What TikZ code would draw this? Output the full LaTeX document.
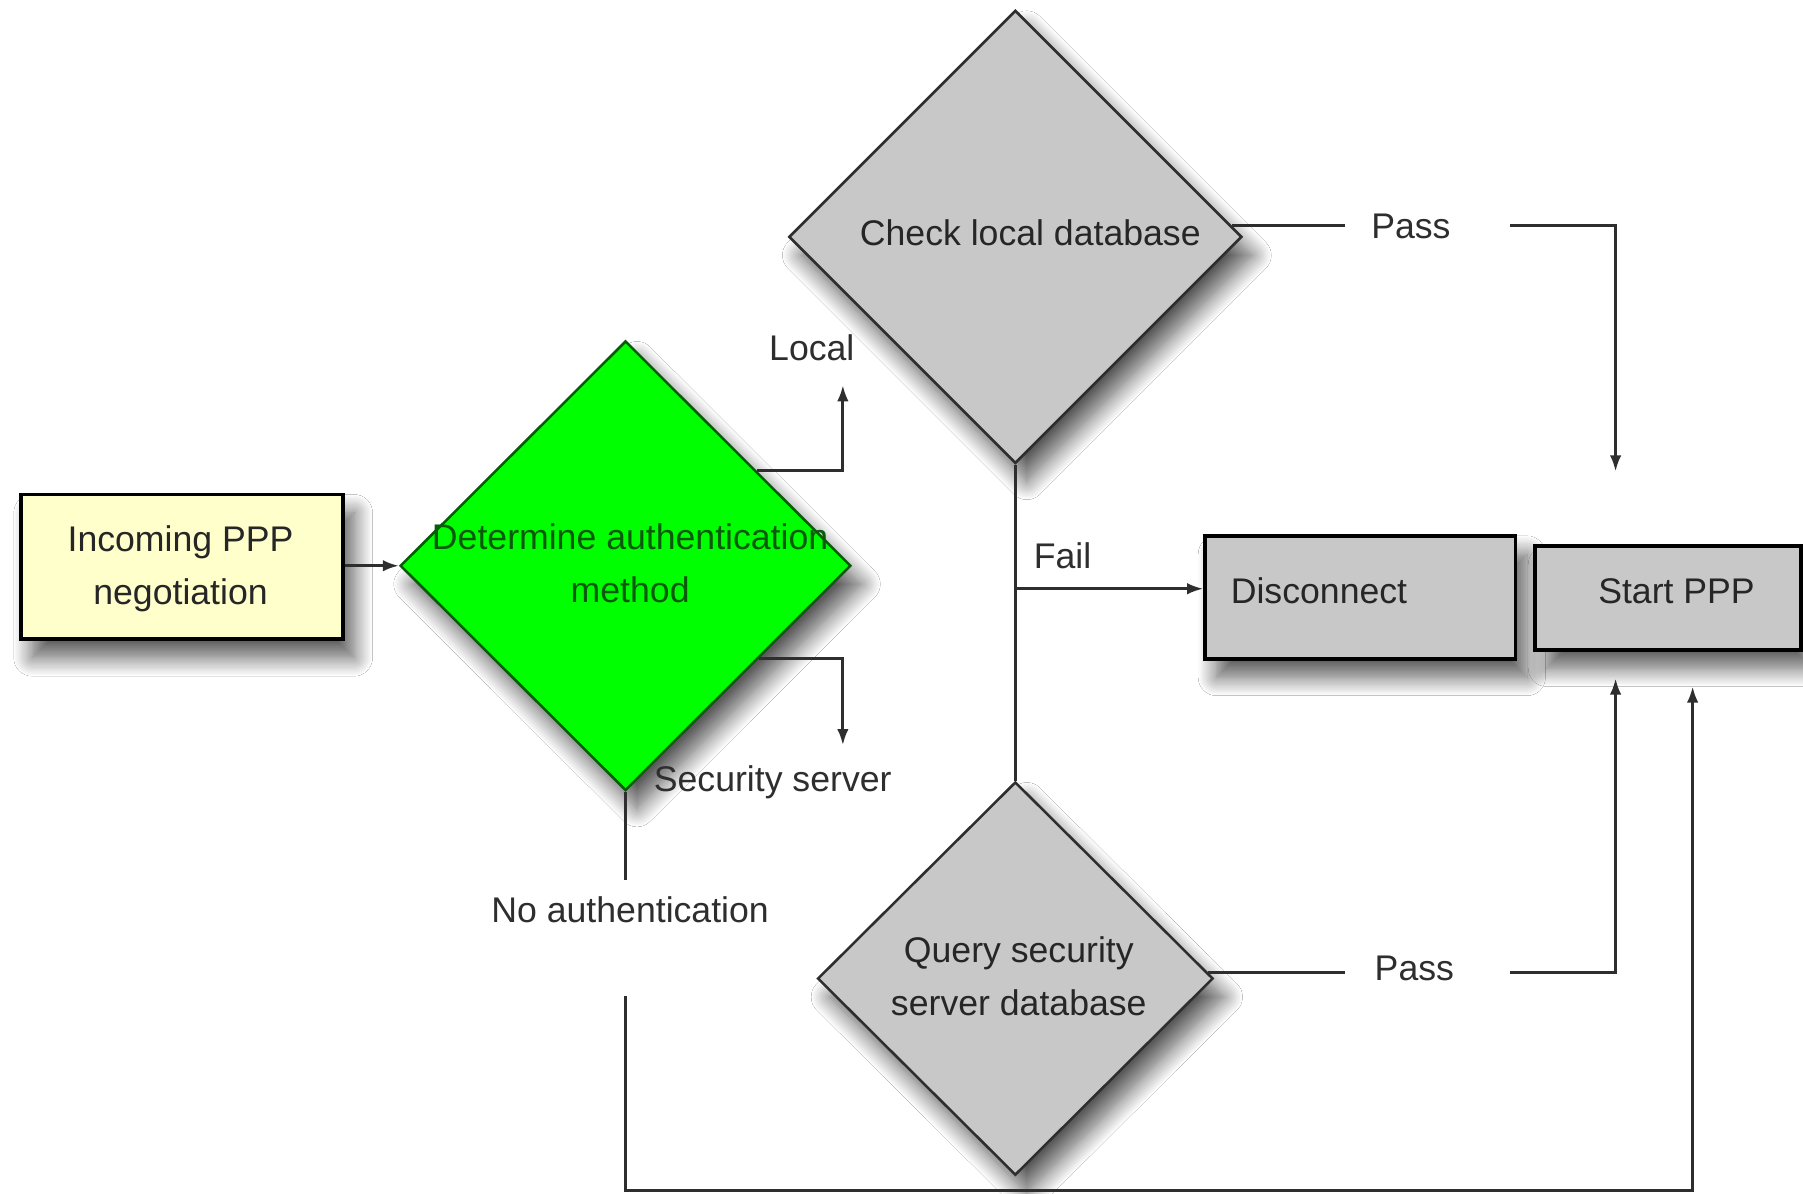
\documentclass[tikz,border=0pt]{standalone}
\usepackage{fontspec}
\setmainfont{Liberation Sans}
\usetikzlibrary{shapes.geometric,arrows.meta,calc,shadows.blur}
\definecolor{yelfill}{HTML}{FFFFCC}
\definecolor{grnfill}{HTML}{00FF00}
\definecolor{grnline}{HTML}{0B5A0B}
\definecolor{grayfill}{HTML}{C8C8C8}
\definecolor{linecol}{HTML}{2E2E2E}
\definecolor{txtcol}{HTML}{262626}
\begin{document}
\begin{tikzpicture}[x=0.5pt,y=-0.5pt,
  every node/.style={font=\fontsize{15.5}{23}\selectfont, text=txtcol},
  shad/.style={blur shadow={shadow xshift=5pt, shadow yshift=-8pt, shadow blur radius=8pt, shadow opacity=65, shadow blur steps=16}},
  boxnode/.style={rectangle, draw=black, line width=1.6pt, inner sep=0pt, shad},
  dianode/.style={diamond, draw=linecol, line width=1.1pt, inner sep=0pt, aspect=1, shad},
  txtnode/.style={align=center, inner sep=0pt},
  lbl/.style={inner sep=1pt, text=linecol},
  conn/.style={draw=linecol, line width=1.2pt},
  arr/.style={conn, -{Latex[length=7pt,width=5pt]}}
]
\useasboundingbox[fill=white] (0,0) rectangle (1568,1038.3);

% nodes
\node[boxnode, fill=yelfill, minimum width=140pt, minimum height=63pt] (inc) at (158,493) {};
\node[txtnode] (inct) at (157,495) {Incoming PPP\\negotiation};

\node[dianode, fill=grnfill, draw=grnline, minimum width=196pt, minimum height=195.5pt] (gd) at (544,492) {};
\node[txtnode, text=grnline] (gdt) at (548,490) {Determine authentication\\method};

\node[dianode, fill=grayfill, minimum width=197pt, minimum height=197pt] (cd) at (883,206) {};
\node[txtnode] (cdt) at (896,202) {Check local database};

\node[dianode, fill=grayfill, minimum width=172pt, minimum height=171pt] (qd) at (883,851) {};
\node[txtnode] (qdt) at (886,849) {Query security\\server database};

\node[boxnode, fill=grayfill, minimum width=135pt, minimum height=53.5pt] (disc) at (1183,519.5) {};
\node[txtnode, anchor=west] (disct) at (1070,514) {Disconnect};

\node[boxnode, fill=grayfill, minimum width=115.5pt, minimum height=45pt] (start) at (1450.5,520) {};
\node[txtnode] (startt) at (1458,514) {Start PPP};

% labels
\node[lbl] (llocal) at (706,302) {Local};
\node[lbl] (lsec) at (672,680) {Security server};
\node[lbl] (lnoauth) at (548,791) {No authentication};
\node[lbl] (lfail) at (924,483) {Fail};
\node[lbl] (lpass1) at (1227,197) {Pass};
\node[lbl] (lpass2) at (1230,842) {Pass};

% coordinates
\coordinate (locend) at (733,335);
\coordinate (secend) at (733,648);
\coordinate (na1) at (544,765);
\coordinate (na2) at (544,866);
\coordinate (nb1) at (544,1035);
\coordinate (nb2) at (1472,1035);
\coordinate (sp2) at (1472,597);
\coordinate (e1) at ($(cd.north)!0.95!(cd.east)$);
\coordinate (e2) at ($(qd.north)!0.97!(qd.east)$);
\coordinate (p1a) at (1170,195);
\coordinate (p1b) at (1313,195);
\coordinate (p1c) at (1405,195);
\coordinate (p1end) at (1405,410);
\coordinate (p2a) at (1170,843);
\coordinate (p2b) at (1313,843);
\coordinate (p2c) at (1405,843);
\coordinate (p2end) at (1405,590);
\coordinate (fb) at (883,512);

% connectors
\draw[arr] (inc.east |- gd.west) -- (gd.west);
\draw[arr] ($(gd.north)!0.58!(gd.east)$) -| (locend);
\draw[arr] ($(gd.south)!0.59!(gd.east)$) -| (secend);
\draw[conn] (gd.south) -- (na1);
\draw[arr] (na2) -- (nb1) -- (nb2) -- (sp2);

\draw[conn] (e1) -- (e1 -| p1a);
\draw[arr] (e1 -| p1b) -- (e1 -| p1c) -- (p1end);

\draw[conn] (cd.south) -- (qd.north);
\draw[arr] (fb) -- (fb -| disc.west);

\draw[conn] (e2) -- (e2 -| p2a);
\draw[arr] (e2 -| p2b) -- (e2 -| p2c) -- (p2end);
\end{tikzpicture}
\end{document}
